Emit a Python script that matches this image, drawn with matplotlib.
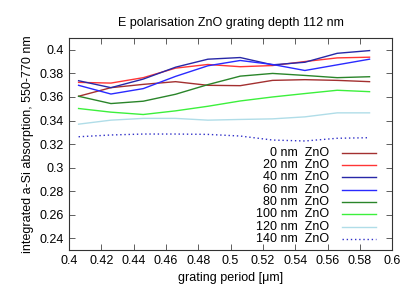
import numpy as np
import matplotlib
matplotlib.use('Agg')
import matplotlib.pyplot as plt

plt.rcParams['font.family'] = ['Liberation Sans', 'DejaVu Sans']

# grating periods (um)
period = [0.406, 0.426, 0.446, 0.466, 0.486, 0.506, 0.526, 0.546, 0.566, 0.586]

# absorption for each ZnO thickness
zno_0 = [0.3606, 0.3679, 0.3707, 0.3730, 0.3699, 0.3696, 0.3741, 0.3747, 0.3741, 0.3730]
zno_20 = [0.3724, 0.3718, 0.3764, 0.3845, 0.3876, 0.3857, 0.3867, 0.3901, 0.3932, 0.3938]
zno_40 = [0.3738, 0.3679, 0.3752, 0.3853, 0.3921, 0.3935, 0.3873, 0.3895, 0.3971, 0.3994]
zno_60 = [0.3699, 0.3625, 0.3671, 0.3775, 0.3865, 0.3910, 0.3876, 0.3825, 0.3873, 0.3921]
zno_80 = [0.3606, 0.3544, 0.3564, 0.3623, 0.3705, 0.3777, 0.3800, 0.3783, 0.3764, 0.3772]
zno_100 = [0.3502, 0.3471, 0.3451, 0.3482, 0.3521, 0.3566, 0.3600, 0.3629, 0.3657, 0.3645]
zno_120 = [0.3369, 0.3403, 0.3418, 0.3418, 0.3403, 0.3409, 0.3414, 0.3431, 0.3465, 0.3465]
zno_140 = [0.3262, 0.3277, 0.3285, 0.3285, 0.3282, 0.3268, 0.3234, 0.3226, 0.3249, 0.3254]

labels = ['0 nm  ZnO', '20 nm  ZnO', '40 nm  ZnO', '60 nm  ZnO',
          '80 nm  ZnO', '100 nm  ZnO', '120 nm  ZnO', '140 nm  ZnO']
series = [zno_0, zno_20, zno_40, zno_60, zno_80, zno_100, zno_120, zno_140]
colors = ['#a33030', '#ff3535', '#2828a8', '#2a2aff', '#2a852a', '#3cf03c', '#b0dde8', '#3030c8']
styles = ['-'] * 7 + [(0, (1, 2))]
widths = [1.0] * 7 + [1.0]

fig = plt.figure(figsize=(4.15, 2.91), dpi=100)
ax = fig.add_axes([0.166, 0.141, 0.779, 0.728])

for i in range(len(series)):
    ax.plot(period, series[i], color=colors[i], linestyle=styles[i], lw=widths[i])

# gnuplot style legend: right aligned text, sample to the right
for i in range(len(labels)):
    yy = 0.46 - i * 0.0585
    ax.text(0.805, yy, labels[i], transform=ax.transAxes, ha='right', va='center', fontsize=9)
    ax.plot([0.845, 0.95], [yy, yy], transform=ax.transAxes, color=colors[i],
            linestyle=styles[i], lw=widths[i])

ax.set_xlim(0.4, 0.6)
ax.set_ylim(0.23, 0.41)
xt = np.round(np.arange(0.4, 0.601, 0.02), 2)
yt = np.round(np.arange(0.24, 0.401, 0.02), 2)
ax.set_xticks(xt)
ax.set_xticklabels(['%g' % v for v in xt])
ax.set_yticks(yt)
ax.set_yticklabels(['%g' % v for v in yt])
ax.tick_params(direction='in', top=True, right=True, labelsize=9, length=4, width=0.6,
               color='#444444')
for sp in ax.spines.values():
    sp.set_linewidth(0.8)
    sp.set_color('#333333')

ax.set_xlabel('grating period [\u03bcm]', fontsize=9, labelpad=4)
ax.set_ylabel('integrated a-Si absorption, 550-770 nm', fontsize=9, labelpad=4)
ax.set_title('E polarisation ZnO grating depth 112 nm', fontsize=9, pad=9)

fig.savefig('out.png', dpi=100)
